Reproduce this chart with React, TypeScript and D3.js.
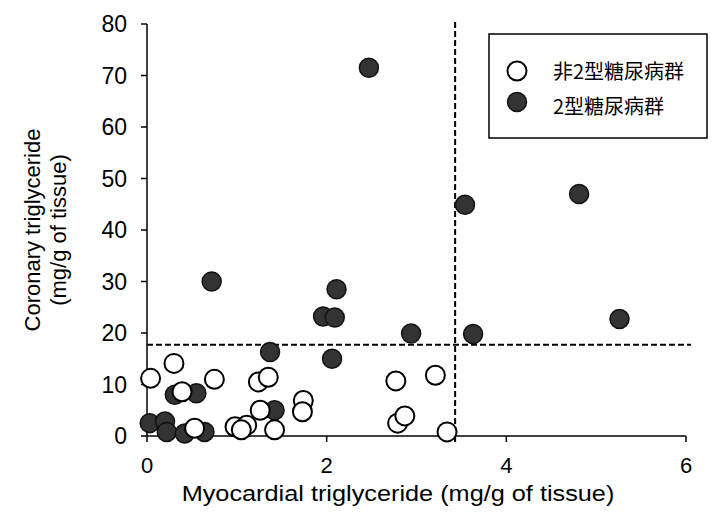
import * as d3 from "d3";

// non type-2 diabetes group (open circles)
const openX = [0.04, 0.30, 0.39, 0.75, 1.24, 1.35, 1.74, 1.73, 1.26, 0.53, 0.98, 1.11, 1.05, 1.42, 2.77, 3.21, 2.79, 2.87, 3.34];
const openY = [11.2, 14.1, 8.6, 11.0, 10.5, 11.4, 6.9, 4.7, 5.0, 1.5, 1.8, 2.1, 1.2, 1.2, 10.7, 11.8, 2.5, 3.9, 0.8];

// type-2 diabetes group (filled circles)
const filledX = [0.72, 2.47, 2.11, 1.96, 2.09, 2.94, 3.54, 3.63, 1.37, 2.06, 4.81, 5.26, 0.31, 0.55, 0.03, 0.20, 0.22, 0.42, 0.64, 1.42];
const filledY = [30, 71.5, 28.5, 23.2, 23.0, 19.9, 44.9, 19.8, 16.3, 15.0, 47.0, 22.7, 8.0, 8.3, 2.5, 2.8, 0.8, 0.5, 0.8, 5.0];

const xTicks = [0, 2, 4, 6];
const yTicks = [0, 10, 20, 30, 40, 50, 60, 70, 80];
const cutX = 3.43;
const cutY = 17.7;
const legendLabels = ["非2型糖尿病群", "2型糖尿病群"];

const width = 725;
const height = 513;
const font = "Liberation Sans, Arial, sans-serif";
const darkFill = "#333";

export default function App() {
  const x = d3.scaleLinear([0, 6], [147, 686]);
  const y = d3.scaleLinear([0, 80], [436, 24]);
  const r = 9.5;

  return (
    <svg width={width} height={height} style={{ position: "absolute", left: 0, top: 0 }}>
      <rect width={width} height={height} fill="#fff" />

      {/* axes */}
      <line x1={x(0)} x2={x(6)} y1={y(0)} y2={y(0)} stroke="#000" strokeWidth={1.5} />
      <line x1={x(0)} x2={x(0)} y1={y(0)} y2={y(80)} stroke="#000" strokeWidth={1.5} />
      {yTicks.map(t => (
        <g key={"y" + t}>
          <line x1={x(0) - 6} x2={x(0)} y1={y(t)} y2={y(t)} stroke="#000" strokeWidth={1.5} />
          <text x={x(0) - 20} y={y(t)} dy="0.36em" textAnchor="end" fontFamily={font} fontSize={23}>{t}</text>
        </g>
      ))}
      {xTicks.map(t => (
        <g key={"x" + t}>
          <line x1={x(t)} x2={x(t)} y1={y(0)} y2={y(0) + 6} stroke="#000" strokeWidth={1.5} />
          <text x={x(t)} y={y(0) + 29} dy="0.36em" textAnchor="middle" fontFamily={font} fontSize={22}>{t}</text>
        </g>
      ))}

      {/* cut-off lines */}
      <line x1={x(0)} x2={x(6) + 5} y1={y(cutY)} y2={y(cutY)} stroke="#000" strokeWidth={2} strokeDasharray="6,3" />
      <line x1={x(cutX)} x2={x(cutX)} y1={y(80) - 2} y2={y(0) + 9} stroke="#000" strokeWidth={2} strokeDasharray="6,3" />

      {/* points */}
      {filledX.map((v, i) => (
        <circle key={"f" + i} cx={x(v)} cy={y(filledY[i])} r={r} fill={darkFill} stroke="#111" strokeWidth={1.5} />
      ))}
      {openX.map((v, i) => (
        <circle key={"o" + i} cx={x(v)} cy={y(openY[i])} r={r} fill="#fff" stroke="#000" strokeWidth={2} />
      ))}

      {/* axis titles */}
      <text transform="translate(398,501) scale(1.15,1)" textAnchor="middle" fontFamily={font} fontSize={22}>Myocardial triglyceride (mg/g of tissue)</text>
      <g transform="translate(32,230) rotate(-90)">
        <text x={0} y={0} dy="0.35em" textAnchor="middle" fontFamily={font} fontSize={22}>Coronary triglyceride</text>
        <text x={0} y={26} dy="0.35em" textAnchor="middle" fontFamily={font} fontSize={22}>(mg/g of tissue)</text>
      </g>

      {/* legend */}
      <rect x={489} y={34} width={218} height={104} fill="#fff" stroke="#000" strokeWidth={1.5} />
      <circle cx={517} cy={71} r={r} fill="#fff" stroke="#000" strokeWidth={2} />
      <circle cx={517} cy={102} r={r} fill={darkFill} stroke="#111" strokeWidth={1.5} />
      {legendLabels.map((l, i) => (
        <text key={l} x={553} y={i === 0 ? 72 : 107} dy="0.35em" fontFamily="Noto Sans CJK JP, sans-serif" fontSize={20}>{l}</text>
      ))}
    </svg>
  );
}
